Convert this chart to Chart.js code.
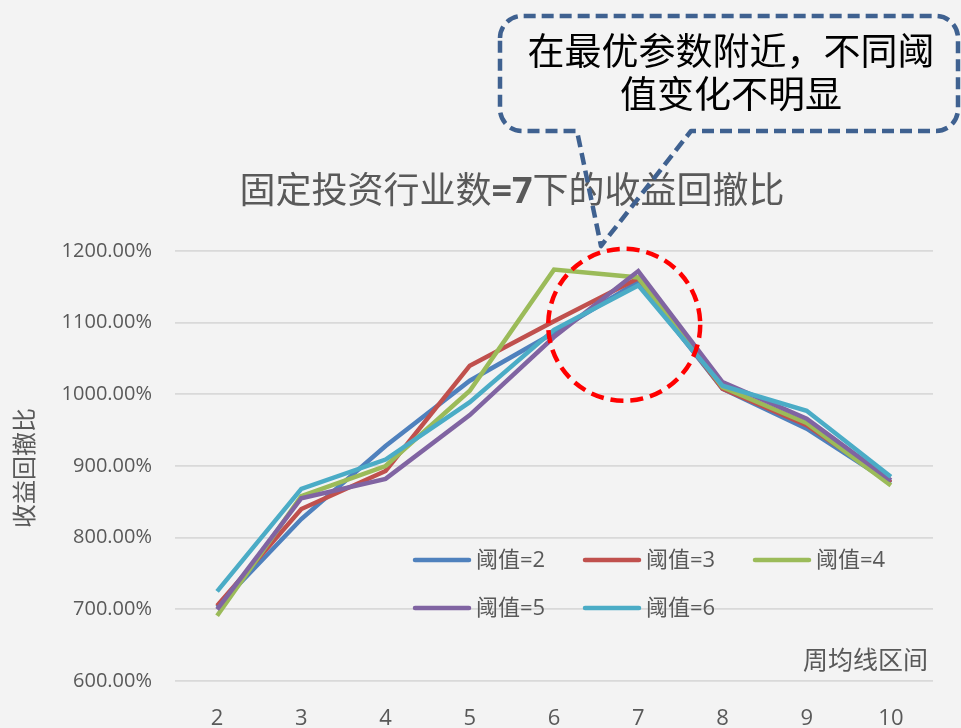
<!DOCTYPE html>
<html>
<head>
<meta charset="utf-8">
<script src="https://cdn.jsdelivr.net/npm/chart.js@4/dist/chart.umd.min.js"></script>
<style>
  html, body { margin: 0; padding: 0; background: #F3F3F3; }
  #wrap { width: 961px; height: 728px; }
</style>
</head>
<body>
<div id="wrap"><canvas id="c" width="961" height="728"></canvas></div>
<script>
// Weekly moving-average window (x axis)
const categories = ['2', '3', '4', '5', '6', '7', '8', '9', '10'];

// Return / drawdown ratio (%) for each threshold
const thr2 = [703, 826, 928, 1019, 1086, 1157, 1008, 952, 876];
const thr3 = [705, 840, 893, 1040, 1102, 1162, 1008, 957, 877];
const thr4 = [691, 858, 900, 1005, 1174, 1163, 1010, 960, 873];
const thr5 = [700, 855, 882, 971, 1080, 1172, 1017, 966, 880];
const thr6 = [725, 868, 909, 989, 1090, 1152, 1012, 977, 885];

const seriesNames = ['阈值=2', '阈值=3', '阈值=4', '阈值=5', '阈值=6'];
const seriesValues = [thr2, thr3, thr4, thr5, thr6];
const seriesColors = ['#4F81BD', '#C0504D', '#9BBB59', '#8064A2', '#4BACC6'];

const chartTitle = ['固定投资行业数', '=7', '下的收益回撤比'];
const yTitle = '收益回撤比';
const xTitle = '周均线区间';
const noteLines = ['在最优参数附近，不同阈', '值变化不明显'];

const FONT = "'Open Sans', 'Noto Sans CJK SC', sans-serif";
const TEXT = '#595959';

const datasets = seriesValues.map((vals, i) => ({
  label: seriesNames[i],
  data: vals,
  borderColor: seriesColors[i],
  backgroundColor: seriesColors[i],
  borderWidth: 4.5,
  pointRadius: 0,
  tension: 0,
  fill: false,
  order: seriesValues.length - i
}));

const background = {
  id: 'background',
  beforeDraw(chart) {
    const ctx = chart.ctx;
    ctx.save();
    ctx.fillStyle = '#F3F3F3';
    ctx.fillRect(0, 0, chart.width, chart.height);
    ctx.restore();
  }
};

const decorations = {
  id: 'decorations',
  afterDraw(chart) {
    const ctx = chart.ctx;
    const area = chart.chartArea;
    const xs = chart.scales.x, ys = chart.scales.y;
    ctx.save();

    // chart title, "=7" in bold
    ctx.textBaseline = 'middle';
    ctx.fillStyle = TEXT;
    const fonts = ['36px ' + FONT, 'bold 36px ' + FONT, '36px ' + FONT];
    let widths = chartTitle.map((t, i) => { ctx.font = fonts[i]; return ctx.measureText(t).width; });
    let total = widths.reduce((a, b) => a + b, 0);
    let tx = 512 - total / 2;
    chartTitle.forEach((t, i) => {
      ctx.font = fonts[i];
      ctx.textAlign = 'left';
      ctx.fillText(t, tx, 193);
      tx += widths[i];
    });

    // y axis title
    ctx.save();
    ctx.translate(26, (area.top + area.bottom) / 2 + 2);
    ctx.rotate(-Math.PI / 2);
    ctx.font = '24px ' + FONT;
    ctx.textAlign = 'center';
    ctx.fillText(yTitle, 0, 0);
    ctx.restore();

    // x axis title inside the plot, lower right
    ctx.font = '25px ' + FONT;
    ctx.textAlign = 'right';
    ctx.fillText(xTitle, area.right - 5, area.bottom - 19);

    // legend
    const colX = [415, 585, 755];
    const rowY = [560, 608];
    ctx.font = '22px ' + FONT;
    ctx.textAlign = 'left';
    datasets.forEach((ds, i) => {
      const x = colX[i % 3], y = rowY[Math.floor(i / 3)];
      ctx.strokeStyle = ds.borderColor;
      ctx.lineWidth = 4.5;
      ctx.lineCap = 'round';
      ctx.beginPath();
      ctx.moveTo(x, y);
      ctx.lineTo(x + 54, y);
      ctx.stroke();
      ctx.fillStyle = TEXT;
      ctx.fillText(ds.label, x + 61, y + 1);
    });

    // red dashed circle around the peak region
    const cx = xs.getPixelForValue(5) - 14;
    const cy = ys.getPixelForValue(1097);
    ctx.strokeStyle = '#FF0000';
    ctx.lineWidth = 4.5;
    ctx.lineCap = 'butt';
    ctx.setLineDash([13, 7]);
    ctx.beginPath();
    ctx.arc(cx, cy, 76, 0, Math.PI * 2);
    ctx.stroke();

    // callout box with pointer
    const L = 500, T = 16, R = 958, B = 131, r = 22;
    const tipX = 601, tipY = 246;
    ctx.strokeStyle = '#3F6190';
    ctx.lineWidth = 4.5;
    ctx.setLineDash([12, 6]);
    ctx.lineJoin = 'round';
    ctx.beginPath();
    ctx.moveTo(L, T + r);
    ctx.arcTo(L, T, L + r, T, r);
    ctx.lineTo(R - r, T);
    ctx.arcTo(R, T, R, T + r, r);
    ctx.lineTo(R, B - r);
    ctx.arcTo(R, B, R - r, B, r);
    ctx.lineTo(691, B);
    ctx.lineTo(tipX, tipY);
    ctx.lineTo(577, B);
    ctx.lineTo(L + r, B);
    ctx.arcTo(L, B, L, B - r, r);
    ctx.closePath();
    ctx.stroke();
    ctx.setLineDash([]);

    ctx.fillStyle = '#000000';
    ctx.font = '37px ' + FONT;
    ctx.textAlign = 'center';
    ctx.textBaseline = 'middle';
    ctx.fillText(noteLines[0], 731, 54);
    ctx.fillText(noteLines[1], 731, 97);

    ctx.restore();
  }
};

new Chart(document.getElementById('c'), {
  type: 'line',
  data: { labels: categories, datasets },
  options: {
    responsive: false,
    animation: false,
    devicePixelRatio: 1,
    layout: { padding: { top: 251, right: 28, left: 0, bottom: 0 } },
    plugins: {
      legend: { display: false },
      title: { display: false },
      tooltip: { enabled: false }
    },
    scales: {
      x: {
        type: 'category',
        offset: true,
        afterFit(scale) { scale.height = 47; },
        grid: { display: false, drawTicks: false },
        border: { display: false },
        ticks: { color: TEXT, font: { family: FONT, size: 22 }, padding: 25, maxRotation: 0 }
      },
      y: {
        min: 600,
        max: 1200,
        afterFit(scale) { scale.width = 175; },
        grid: { color: '#D9D9D9', lineWidth: 1.8, drawTicks: false },
        border: { display: false },
        ticks: {
          stepSize: 100,
          color: TEXT,
          font: { family: FONT, size: 20 },
          padding: 23,
          callback: v => v.toFixed(2) + '%'
        }
      }
    }
  },
  plugins: [background, decorations]
});
</script>
</body>
</html>
